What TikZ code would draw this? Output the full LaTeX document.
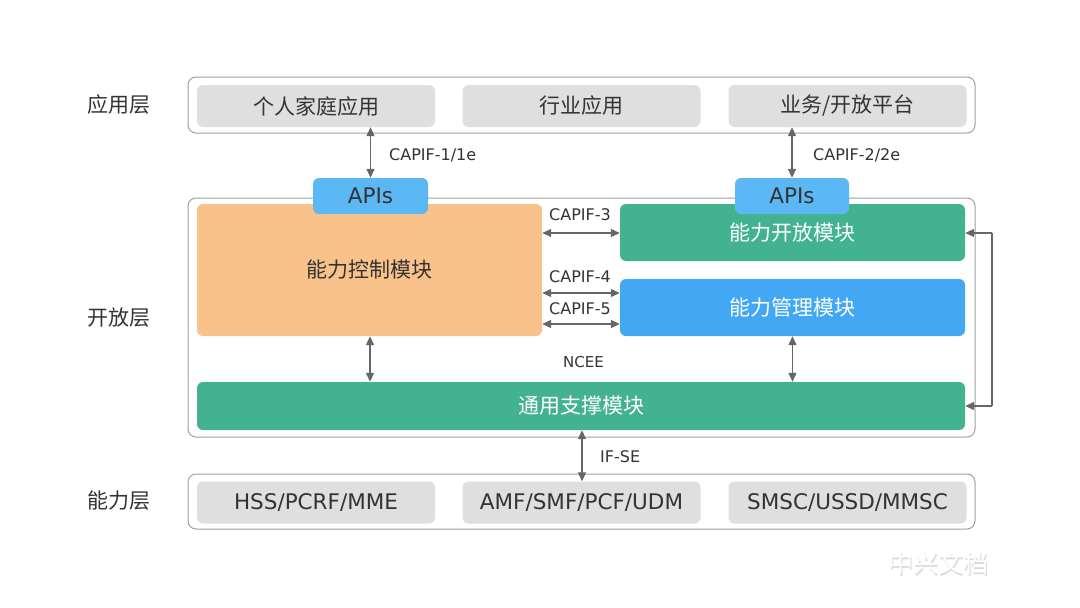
\documentclass[tikz,border=0pt]{standalone}
\usepackage{fontspec}
\setmainfont{DejaVu Sans}
\newfontfamily\cjk{Noto Sans CJK SC}
\usetikzlibrary{arrows.meta}
\definecolor{txt}{HTML}{333333}
\definecolor{line}{HTML}{666666}
\definecolor{frame}{HTML}{A0A0A0}
\definecolor{graybox}{HTML}{DFDFDF}
\definecolor{orangebox}{HTML}{FAC28B}
\definecolor{greenbox}{HTML}{43B291}
\definecolor{bluebox}{HTML}{42A8F4}
\definecolor{apibox}{HTML}{5BB8F5}
\tikzset{
  container/.style={draw=frame, line width=1pt, rounded corners=8pt, fill=white},
  blk/.style={rounded corners=6pt, inner sep=0pt, text=txt},
  cjkfont/.style={font=\cjk\fontsize{21}{23}\selectfont},
  latfont/.style={font=\fontsize{21.5}{23}\selectfont},
  cell/.style={blk, fill=graybox, minimum width=238pt, minimum height=42pt, latfont},
  layerlabel/.style={text=txt, cjkfont},
  iflabel/.style={text=txt, font=\fontsize{16}{18}\selectfont, anchor=west, inner sep=0pt},
  conn/.style={draw=line, line width=1.3pt, {Triangle[length=9pt,width=8pt]}-{Triangle[length=9pt,width=8pt]}},
  conn1/.style={draw=line, line width=1.3pt, -{Triangle[length=9pt,width=8pt]}},
}
\begin{document}
\begin{tikzpicture}[x=1pt,y=-1pt]
\useasboundingbox (0,0) rectangle (1080,608);
\fill[white] (0,0) rectangle (1080,608);

% layer labels
\node[layerlabel] (lApp) at (119,105) {应用层};
\node[layerlabel] (lOpen) at (119,318) {开放层};
\node[layerlabel] (lCap) at (119,501) {能力层};

% containers
\draw[container] (188,77) rectangle (975,133);
\draw[container] (188,198) rectangle (975,437);
\draw[container] (188,474) rectangle (975,529);

% application layer
\node[cell, cjkfont] (app1) at (316,106) {个人家庭应用};
\node[cell, cjkfont] (app2) at (581.5,106) {行业应用};
\node[cell, cjkfont] (app3) at (847.5,106) {业务/开放平台};

% capability layer
\node[cell] (cap1) at (316,502.5) {HSS/PCRF/MME};
\node[cell] (cap2) at (581.5,502.5) {AMF/SMF/PCF/UDM};
\node[cell] (cap3) at (847.5,502.5) {SMSC/USSD/MMSC};

% open layer modules
\node[blk, fill=orangebox, minimum width=345pt, minimum height=132pt, cjkfont] (ctrl) at (369.5,270) {能力控制模块};
\node[blk, fill=greenbox, text=white, minimum width=345pt, minimum height=57pt, cjkfont] (expo) at (792.5,232.5) {能力开放模块};
\node[blk, fill=bluebox, text=white, minimum width=345pt, minimum height=57pt, cjkfont] (mgmt) at (792.5,307.5) {能力管理模块};
\node[blk, fill=greenbox, text=white, minimum width=768pt, minimum height=48pt, cjkfont] (supp) at (581,406) {通用支撑模块};

% APIs
\node[blk, fill=apibox, minimum width=115pt, minimum height=36pt, latfont] (api1) at (370.5,196) {APIs};
\node[blk, fill=apibox, minimum width=114pt, minimum height=36pt, latfont] (api2) at (792,196) {APIs};

% connectors
\draw[conn] (app1.south -| api1) -- (api1.north);
\node[iflabel] (l1) at (389,155) {CAPIF-1/1e};
\draw[conn] (app3.south -| api2) -- (api2.north);
\node[iflabel] (l2) at (813,155) {CAPIF-2/2e};

\coordinate (c3) at (0,233);
\draw[conn] (ctrl.east |- c3) -- (expo.west |- c3);
\node[iflabel] (l3) at (549,215) {CAPIF-3};
\coordinate (c4) at (0,293);
\draw[conn] (ctrl.east |- c4) -- (mgmt.west |- c4);
\node[iflabel] (l4) at (549,277) {CAPIF-4};
\coordinate (c5) at (0,324);
\draw[conn] (ctrl.east |- c5) -- (mgmt.west |- c5);
\node[iflabel] (l5) at (549,309) {CAPIF-5};

\coordinate (vx1) at (370,0);
\draw[conn] (ctrl.south -| vx1) -- (supp.north -| vx1);
\draw[conn] (mgmt.south) -- (supp.north -| mgmt.south);
\node[iflabel, font=\fontsize{15}{17}\selectfont] (ncee) at (563,362) {NCEE};

\coordinate (vx2) at (582,0);
\draw[conn] (supp.south -| vx2) -- (cap2.north -| vx2);
\node[iflabel] (ifse) at (600,457) {IF-SE};

% right feedback line
\coordinate (rt) at (992,233);
\coordinate (rb) at (992,406);
\draw[conn1] (rt) -- (expo.east |- rt);
\draw[conn1] (rb) -- (supp.east |- rb);
\draw[draw=line, line width=1.3pt] (rt) -- (rb);

% watermark
\node[text=black!15, font=\cjk\fontsize{25}{27}\selectfont] (wm0) at (939.5,564.5) {中兴文档};
\node[text=white, font=\cjk\fontsize{25}{27}\selectfont] (wm) at (938,563) {中兴文档};
\end{tikzpicture}
\end{document}
